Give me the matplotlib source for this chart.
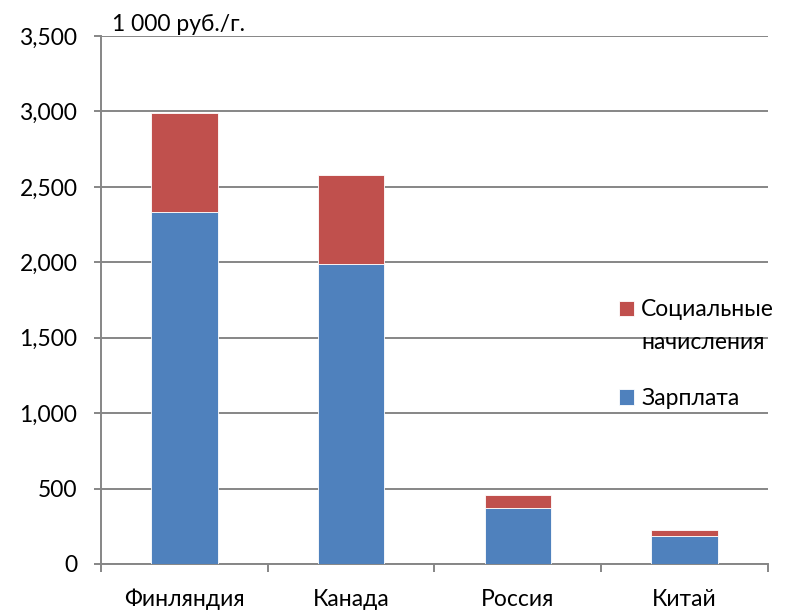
import matplotlib
matplotlib.use("Agg")
import matplotlib.pyplot as plt
import numpy as np

countries = ["Финляндия", "Канада", "Россия", "Китай"]
wages = [2336, 1987, 369, 183]
social = [655, 591, 86, 44]

blue = "#4f81bd"
red = "#c0504d"
grid_color = "#868686"
fs = 16.5

plt.rcParams["font.family"] = ["Lato", "DejaVu Sans"]

fig = plt.figure(figsize=(7.92, 6.14), dpi=100)
ax = fig.add_axes([101 / 792, 1 - 564 / 614, 667 / 792, 528 / 614])

x = np.arange(len(countries))
ax.bar(x, wages, width=0.4, color=blue, edgecolor="white", linewidth=0.6, label="Зарплата", zorder=3)
ax.bar(x, social, width=0.4, bottom=wages, color=red, edgecolor="white", linewidth=0.6,
       label="Социальные", zorder=3)

ax.set_xlim(-0.5, len(countries) - 0.5)
ax.set_ylim(0, 3500)
ax.set_yticks(np.arange(0, 3501, 500))
ax.set_yticklabels([f"{v:,}" for v in range(0, 3501, 500)], fontsize=fs)
ax.yaxis.grid(True, color=grid_color, linewidth=1.4, zorder=0)
ax.set_axisbelow(True)

ax.set_xticks(x)
ax.set_xticklabels(countries, fontsize=fs)
ax.set_xticks(np.arange(-0.5, len(countries)), minor=True)
ax.tick_params(axis="x", which="major", length=0, pad=18)
ax.tick_params(axis="x", which="minor", length=6, width=1.4, color=grid_color)
ax.tick_params(axis="y", length=5, width=1.4, color=grid_color, pad=12)

for side in ["top", "right"]:
    ax.spines[side].set_visible(False)
for side in ["left", "bottom"]:
    ax.spines[side].set_color(grid_color)
    ax.spines[side].set_linewidth(1.4)

ax.text(0.016, 1.002, "1 000 руб./г.", transform=ax.transAxes, fontsize=fs, va="bottom", ha="left")

handles, labels = ax.get_legend_handles_labels()
leg = fig.legend(handles[::-1], labels[::-1], loc="upper left", bbox_to_anchor=(608 / 792, 1 - 288 / 614),
                 frameon=False, fontsize=fs, handlelength=0.65, handleheight=0.65, handletextpad=0.3,
                 labelspacing=2.95, borderpad=0)

# second line of the first legend label, placed under "Социальные"
fig.canvas.draw()
bb = leg.get_texts()[0].get_window_extent()
fig.text(bb.x0 / 792, (bb.y0 - 12) / 614, "начисления", fontsize=fs, va="top", ha="left")

fig.savefig("out.png", dpi=100)
